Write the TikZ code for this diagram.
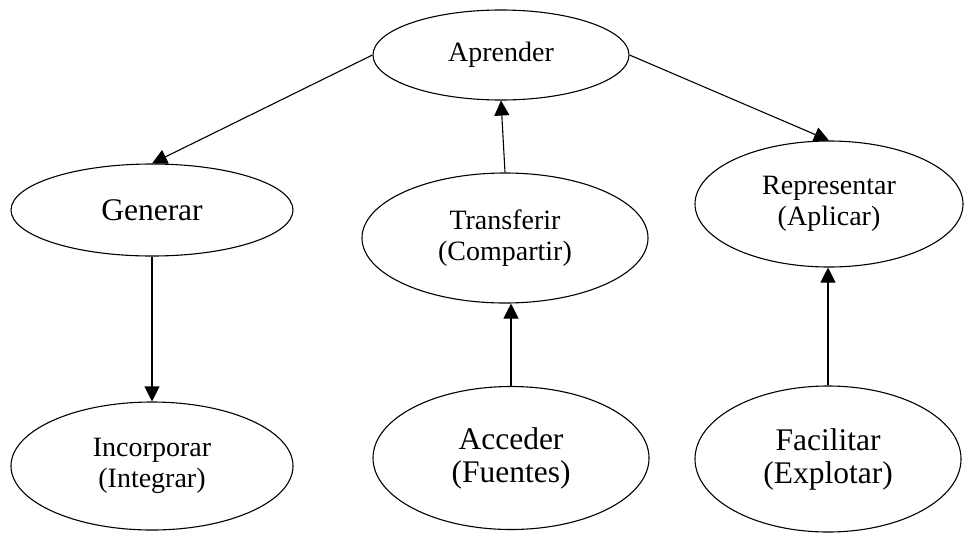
\documentclass[tikz,border=0pt]{standalone}
\usepackage{fontspec}
\setmainfont{Liberation Serif}
\usetikzlibrary{shapes.geometric,arrows.meta}
\pgfdeclarelayer{bg}
\pgfsetlayers{bg,main}
\begin{document}
\tikzset{
  bubble/.style={ellipse, draw, line width=1.1pt, fill=white, inner sep=0pt, align=center},
  smalltext/.style={font=\fontsize{28}{31}\selectfont},
  bigtext/.style={font=\fontsize{31.5}{33}\selectfont},
  link/.style={line width=1.1pt, -{Triangle[length=15pt,width=15pt]}}
}
\begin{tikzpicture}[x=1pt,y=-1pt]
\useasboundingbox (0,0) rectangle (965,536);

% concept ellipses
\node[bubble,smalltext,minimum width=256pt,minimum height=90pt]  (apr) at (501,55)  {Aprender};
\node[bubble,bigtext,minimum width=282pt,minimum height=92pt]    (gen) at (152,210) {Generar};
\node[bubble,smalltext,minimum width=286pt,minimum height=130pt] (tra) at (505,238) {Transferir\\(Compartir)};
\node[bubble,smalltext,minimum width=268pt,minimum height=126pt] (rep) at (829,204) {Representar\\(Aplicar)};
\node[bubble,smalltext,minimum width=282pt,minimum height=128pt] (inc) at (152,466) {Incorporar\\(Integrar)};
\node[bubble,bigtext,minimum width=276pt,minimum height=143pt]   (acc) at (511,458) {Acceder\\(Fuentes)};
\node[bubble,bigtext,minimum width=266pt,minimum height=146pt]   (fac) at (828,459) {Facilitar\\(Explotar)};

% connectors, kept behind the ellipses
\begin{pgfonlayer}{bg}
\draw[link] (apr.west) -- (gen.north);
\draw[link] (apr.east) -- (rep.north);
\draw[link] (tra.north) -- (apr.south);
\draw[link] (gen.south) -- (inc.north);
\draw[link] (acc.north) -- (acc.north |- tra.south);
\draw[link] (fac.north) -- (fac.north |- rep.south);
\end{pgfonlayer}
\end{tikzpicture}
\end{document}
